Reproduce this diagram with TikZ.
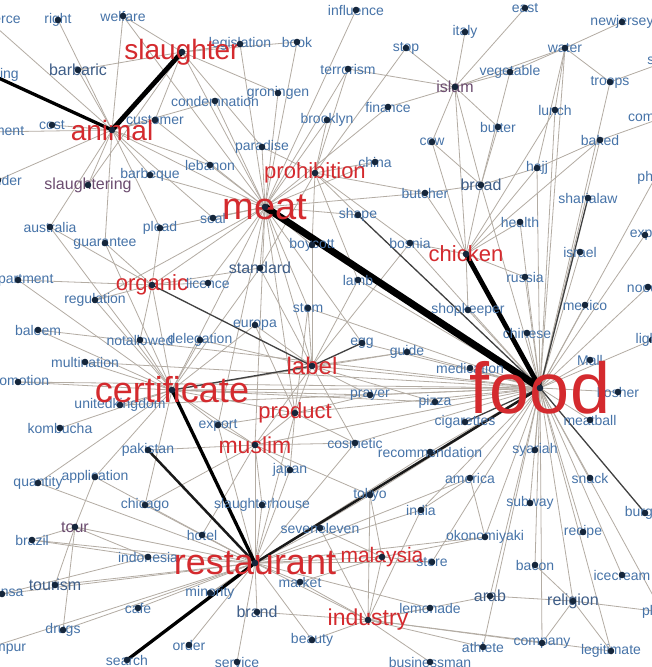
\documentclass[tikz,border=0pt]{standalone}
\usepackage{fontspec}
\setmainfont{Liberation Sans}
\definecolor{netblue}{HTML}{4673A8}
\definecolor{netslate}{HTML}{3F5E88}
\definecolor{netred}{HTML}{D42A2E}
\definecolor{netpurple}{HTML}{6C4D70}
\definecolor{netdot}{HTML}{15263B}
\definecolor{netgray}{HTML}{B3ACA3}
\pgfdeclarelayer{bg}
\pgfsetlayers{bg,main}
\begin{document}
\begin{tikzpicture}[x=1pt,y=-1pt,
    lab/.style={text=netblue, inner sep=0pt, font=\fontsize{14}{14}\selectfont},
    labm/.style={text=netslate, inner sep=0pt, font=\fontsize{16}{16}\selectfont},
    labp/.style={text=netpurple, inner sep=0pt, font=\fontsize{16}{16}\selectfont},
    hub/.style={text=netred, inner sep=0pt},
    edge/.style={netgray, line width=0.8pt},
    w1/.style={black!75, line width=1.3pt},
    w2/.style={black!90, line width=2.5pt},
    w3/.style={black, line width=3.3pt},
    w4/.style={black, line width=4.8pt},
    w5/.style={black, line width=7pt}]
      \useasboundingbox (0,0) rectangle (651,667);
      \clip (0,0) rectangle (651,667);
      \foreach \n/\x/\y in {commerce/-12/20,right/58/20,welfare/123/16,suffering/-8/75,cost/52/125,punishment/-12/132,
        customer/155/120,founder/-2/180,legislation/240/44,book/297/42,influence/356/10,terrorism/348/69,stop/406/48,
        groningen/278/93,condemnation/215/101,finance/388/107,brooklyn/327/120,paradise/262/147,china/375/162,
        lebanon/210/165,barbeque/150/175,seal/213/218,plead/160/228,australia/50/227,guarantee/105/243,shape/358/215,
        butcher/425/193,bosnia/410/243,boycott/312/245,licence/208/283,department/18/280,regulation/95/300,
        baleem/38/330,notallowed/140/340,delegation/200/340,europa/255/325,stem/308/308,lamb/358/280,egg/362/343,
        guide/407/352,multination/85/362,promotion/18/382,unitedkingdom/120/405,kombucha/60/428,prayer/370/395,
        pizza/435/402,export/218/425,cosmetic/355/443,recommendation/430/452,cigarettes/465/422,syariah/535/450,
        pakistan/148/450,japan/290/470,application/95/477,quantity/38/483,chicago/145/505,slaughterhouse/262/505,
        tokyo/370/495,india/421/510,seveneleven/320/528,brazil/32/540,hotel/202/535,indonesia/148/557,store/432/562,
        okonomiyaki/485/537,america/470/478,subway/530/503,bacon/535/565,recipe/583/532,snack/590/478,burger/645/513,
        icecream/622/575,minority/210/593,market/300/582,cafe/138/608,lemonade/430/608,drugs/63/630,beauty/312/640,
        company/542/643,athlete/483/647,legitimate/611/651,kualalumpur/-12/648,search/127/660,order/189/645,
        service/237/662,businessman/430/662,newjersey/622/22,water/565/48,troops/610/82,italy/465/32,east/525/8,
        vegetable/510/72,lunch/555/110,butter/498/127,community/662/118,baked/600/140,cow/432/142,hajj/537/168,
        photo/655/178,sharialaw/588/198,health/520/222,expo/645/235,israel/580/252,russia/525/277,noodle/648/287,
        mexico/585/305,shopkeeper/468/310,chinese/527/333,lights/652/340,Mall/590/360,kosher/618/392,meatball/590/420,
        medication/470/368,prensa/2/594,plastic/662/612,sugar/665/62}
        \node[lab] (\n) at (\x,\y) {\n};
      \foreach \n/\x/\y in {barbaric/78/70,standard/260/268,tourism/55/585,brand/257/612,arab/490/596,religion/573/601,bread/481/185}
        \node[labm] (\n) at (\x,\y) {\n};
      \foreach \n/\x/\y in {slaughtering/88/185,islam/455/87,tour/75/527}
        \node[labp] (\n) at (\x,\y) {\n};
      \foreach \n/\x/\y/\f in {slaughter/182/52/28,animal/112/130/28,prohibition/315/173/22,meat/265/207/38,
        chicken/466/254/22,organic/152/285/22,label/312/366/24,certificate/172/390/36,product/295/413/22,
        muslim/255/445/23,food/540/388/72,restaurant/255/563/36,malaysia/382/557/21,industry/368/620/23}
        \node[hub, font=\fontsize{\f}{\f}\selectfont] (\n) at (\x,\y) {\n};
      \begin{pgfonlayer}{bg}
        \fill[white] (-20,-20) rectangle (680,690);
        \foreach \t in {health,israel,russia,mexico,noodle,lights,Mall,kosher,meatball,syariah,subway,bacon,recipe,snack,
          icecream,religion,america,okonomiyaki,company,legitimate,recommendation,guide,prayer,pizza,bread,hajj,baked,
          photo,expo,lunch,shopkeeper,chinese,medication,egg,bosnia,store,india,tokyo,cosmetic,label,product,certificate,
          muslim,water,troops,arab,athlete,plastic,lamb,stem,promotion,unitedkingdom,multination,baleem}
          \draw[edge] (food.center) -- (\t.center);
        \foreach \t in {slaughter,animal,prohibition,paradise,lebanon,barbeque,brooklyn,groningen,condemnation,book,
          terrorism,influence,standard,boycott,seal,licence,organic,stem,certificate,label,muslim,shape,butcher,china,
          product,export,legislation,welfare,customer,plead,finance,regulation,egg}
          \draw[edge] (meat.center) -- (\t.center);
        \foreach \t in {tokyo,malaysia,market,brand,cafe,minority,indonesia,hotel,tour,chicago,slaughterhouse,seveneleven,
          japan,muslim,industry,beauty,service,order,drugs,tourism,brazil,application,quantity,india,store,okonomiyaki,
          america,kualalumpur,prensa,recommendation,cosmetic,lemonade,product,export}
          \draw[edge] (restaurant.center) -- (\t.center);
        \foreach \t in {multination,promotion,unitedkingdom,kombucha,notallowed,delegation,regulation,organic,baleem,
          department,export,product,muslim,europa,standard,guide,prayer,pizza,application,quantity,chicago,guarantee,australia}
          \draw[edge] (certificate.center) -- (\t.center);
        \foreach \t in {barbaric,cost,welfare,right,slaughtering,customer,founder,punishment,australia,guarantee,lebanon,
          barbeque,condemnation,seal,commerce,plead}
          \draw[edge] (animal.center) -- (\t.center);
        \foreach \t in {welfare,legislation,groningen,barbaric,customer,slaughtering,book,paradise}
          \draw[edge] (slaughter.center) -- (\t.center);
        \foreach \t in {product,stem,europa,prayer,guide,lamb,cosmetic,bosnia,pizza,muslim,standard,boycott,delegation}
          \draw[edge] (label.center) -- (\t.center);
        \foreach \t in {bread,health,russia,butcher,shopkeeper,bosnia,hajj,lunch,islam,cow,baked}
          \draw[edge] (chicken.center) -- (\t.center);
        \foreach \t in {italy,vegetable,bread,finance,terrorism,east,stop,water,cow,butter}
          \draw[edge] (islam.center) -- (\t.center);
        \foreach \t in {troops,vegetable,newjersey,lunch}
          \draw[edge] (water.center) -- (\t.center);
        \foreach \t in {butter,cow,butcher,hajj,vegetable}
          \draw[edge] (bread.center) -- (\t.center);
        \foreach \t in {product,export,japan,cosmetic,pakistan,slaughterhouse,hotel,chicago,tokyo}
          \draw[edge] (muslim.center) -- (\t.center);
        \foreach \t in {china,paradise,brooklyn,terrorism,stop,standard,boycott,shape,butcher,lamb,bosnia}
          \draw[edge] (prohibition.center) -- (\t.center);
        \foreach \t in {malaysia,market,brand,beauty,businessman,company,lemonade,arab,tokyo,india,athlete,legitimate,seveneleven}
          \draw[edge] (industry.center) -- (\t.center);
        \foreach \t in {store,tokyo,seveneleven,okonomiyaki,market}
          \draw[edge] (malaysia.center) -- (\t.center);
        \foreach \t in {japan,cosmetic,export,prayer,stem,europa}
          \draw[edge] (product.center) -- (\t.center);
        \foreach \t in {regulation,department,guarantee,licence,standard,australia,plead,notallowed}
          \draw[edge] (organic.center) -- (\t.center);
        \foreach \t in {brazil,indonesia,tourism,drugs,application}
          \draw[edge] (tour.center) -- (\t.center);
        \foreach \t in {arab,company,legitimate,bacon,plastic}
          \draw[edge] (religion.center) -- (\t.center);
        \foreach \a/\b in {america/okonomiyaki,america/india,hajj/baked,baked/community,troops/sugar,water/hajj,
          indonesia/prensa,brazil/indonesia}
          \draw[edge] (\a.center) -- (\b.center);
        \foreach \a/\b in {certificate/label,organic/label,label/egg,food/sharialaw,food/burger,food/cigarettes,shape/food}
          \draw[w1] (\a.center) -- (\b.center);
        \draw[w2] (pakistan.center) -- (restaurant.center);
        \draw[w2] (restaurant.center) -- (food.center);
        \draw[w3] (animal.center) -- (suffering.center);
        \draw[w3] (certificate.center) -- (restaurant.center);
        \draw[w3] (search.center) -- (restaurant.center);
        \draw[w4] (animal.center) -- (slaughter.center);
        \draw[w4] (chicken.center) -- (food.center);
        \draw[w5] (meat.center) -- (food.center);
      \end{pgfonlayer}
      \foreach \n in {commerce,right,welfare,suffering,cost,punishment,customer,founder,legislation,book,influence,
        terrorism,stop,groningen,condemnation,finance,brooklyn,paradise,china,lebanon,barbeque,seal,plead,australia,
        guarantee,shape,butcher,bosnia,boycott,licence,department,regulation,baleem,notallowed,delegation,europa,stem,
        lamb,egg,guide,multination,promotion,unitedkingdom,kombucha,prayer,pizza,export,cosmetic,recommendation,
        cigarettes,syariah,pakistan,japan,application,quantity,chicago,slaughterhouse,tokyo,india,seveneleven,brazil,
        hotel,indonesia,store,okonomiyaki,america,subway,bacon,recipe,snack,burger,icecream,minority,market,cafe,
        lemonade,drugs,beauty,company,athlete,legitimate,kualalumpur,search,order,service,businessman,newjersey,water,
        troops,italy,east,vegetable,lunch,butter,community,baked,cow,hajj,photo,sharialaw,health,expo,israel,russia,
        noodle,mexico,shopkeeper,chinese,lights,Mall,kosher,meatball,medication,prensa,plastic,sugar,barbaric,standard,
        tourism,brand,arab,religion,bread,slaughtering,islam,tour,slaughter,animal,prohibition,meat,chicken,organic,
        label,certificate,product,muslim,food,restaurant,malaysia,industry}
        \fill[netdot] (\n.center) circle (3.3);
    \end{tikzpicture}
\end{document}
